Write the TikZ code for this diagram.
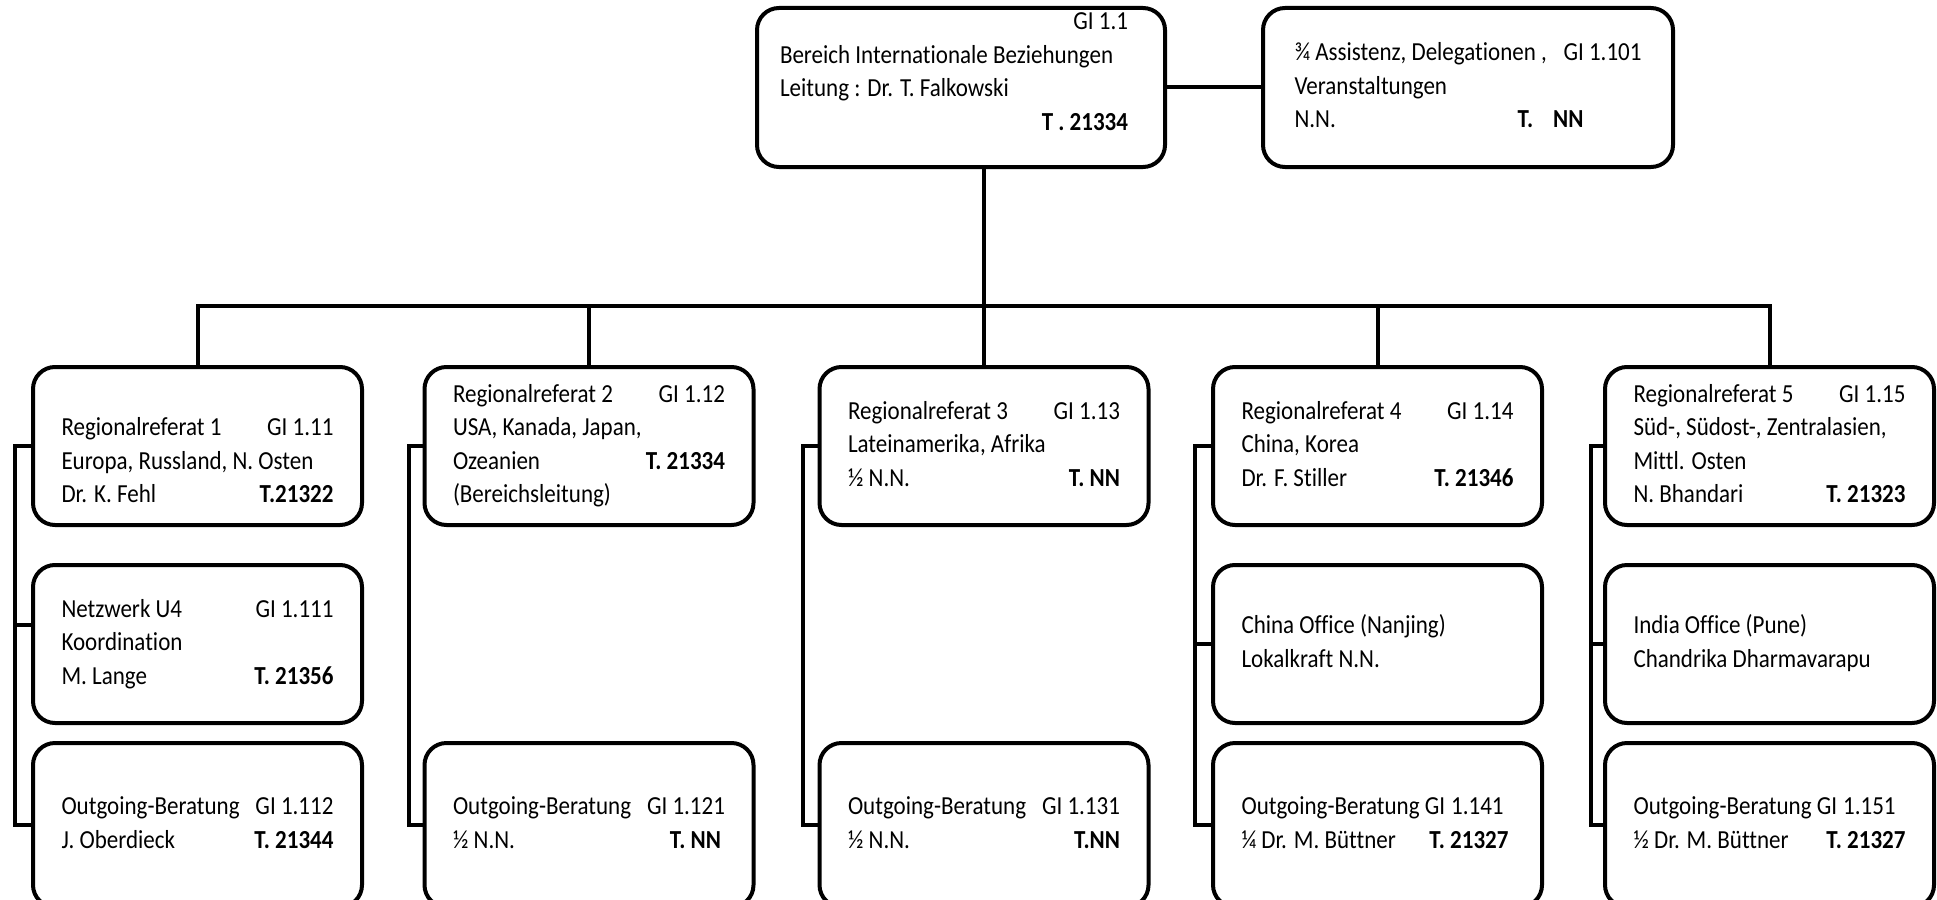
\documentclass[tikz,border=0pt]{standalone}
\usepackage{fontspec}
\setmainfont{Carlito}[FakeStretch=0.885, Ligatures=NoCommon]
\usetikzlibrary{calc}
\newcommand\tline[2]{\hbox to\hsize{\strut#1\hfil#2}}
\newcommand\tblock[2]{\vbox{\hsize=#1\relax #2}}
\tikzset{
  box/.style={draw, line width=2pt, rounded corners=11pt, fill=white, inner sep=0pt,
              minimum width=164.5pt, minimum height=79pt,
              font=\fontsize{13pt}{16.75pt}\selectfont},
  conn/.style={line width=2pt},
}
\begin{document}
\begin{tikzpicture}[x=0.5pt, y=-0.5pt]
\useasboundingbox (0,0) rectangle (1937,899);
\fill[white] (0,0) rectangle (1937,899);
\clip (0,0) rectangle (1937,899);

% top row
\node[box, minimum width=204pt, minimum height=79.5pt] (top) at (961,87.5)
  {\vbox to 79.5pt{\hsize=181pt\vskip-0.75pt
    \tline{}{GI 1.1\kern7pt}
    \tline{Bereich Internationale Beziehungen}{}
    \tline{Leitung : Dr. T. Falkowski}{}
    \tline{}{\textbf{T . 21334}\kern7pt}\vss}};
\node[box, minimum width=205pt, minimum height=79.5pt] (topR) at (1468,87.5)
  {\tblock{173.5pt}{
    \tline{¾ Assistenz, Delegationen ,}{GI 1.101}
    \tline{Veranstaltungen}{}
    \tline{N.N.}{\textbf{T.\kern10pt NN}\kern29pt}}};

% row 1
\node[box] (r1) at (197.5,446) {\tblock{136pt}{
    \tline{}{}
    \tline{Regionalreferat 1}{GI 1.11}
    \tline{Europa, Russland, N. Osten}{}
    \tline{Dr. K. Fehl}{\textbf{T.21322}}}};
\node[box] (r2) at (589,446) {\tblock{136pt}{
    \tline{Regionalreferat 2}{GI 1.12}
    \tline{USA, Kanada, Japan,}{}
    \tline{Ozeanien}{\textbf{T. 21334}}
    \tline{(Bereichsleitung)}{}}};
\node[box] (r3) at (984,446) {\tblock{136pt}{
    \tline{Regionalreferat 3}{GI 1.13}
    \tline{Lateinamerika, Afrika}{}
    \tline{½ N.N.}{\textbf{T. NN}}}};
\node[box] (r4) at (1377.5,446) {\tblock{136pt}{
    \tline{Regionalreferat 4}{GI 1.14}
    \tline{China, Korea}{}
    \tline{Dr. F. Stiller}{\textbf{T. 21346}}}};
\node[box] (r5) at (1769.5,446) {\tblock{136pt}{
    \tline{Regionalreferat 5}{GI 1.15}
    \tline{Süd-, Südost-, Zentralasien,}{}
    \tline{Mittl. Osten}{}
    \tline{N. Bhandari}{\textbf{T. 21323}}}};

% row 2
\node[box] (n1) at (197.5,644) {\tblock{136pt}{
    \tline{Netzwerk U4}{GI 1.111}
    \tline{Koordination}{}
    \tline{M. Lange}{\textbf{T. 21356}}}};
\node[box] (c4) at (1377.5,644) {\tblock{136pt}{
    \tline{China Office (Nanjing)}{}
    \tline{Lokalkraft N.N.}{}}};
\node[box] (c5) at (1769.5,644) {\tblock{136pt}{
    \tline{India Office (Pune)}{}
    \tline{Chandrika Dharmavarapu}{}}};

% row 3
\node[box, minimum height=82pt] (o1) at (197.5,825) {\tblock{136pt}{
    \tline{Outgoing-Beratung}{GI 1.112}
    \tline{J. Oberdieck}{\textbf{T. 21344}}}};
\node[box, minimum height=82pt] (o2) at (589,825) {\tblock{136pt}{
    \tline{Outgoing-Beratung}{GI 1.121}
    \tline{½ N.N.}{\textbf{T. NN}\kern2pt}}};
\node[box, minimum height=82pt] (o3) at (984,825) {\tblock{136pt}{
    \tline{Outgoing-Beratung}{GI 1.131}
    \tline{½ N.N.}{\textbf{T.NN}}}};
\node[box, minimum height=82pt] (o4) at (1377.5,825) {\tblock{136pt}{
    \tline{Outgoing-Beratung GI\kern3pt 1.141}{}
    \tline{¼ Dr. M. Büttner}{\textbf{T. 21327}\kern2.5pt}}};
\node[box, minimum height=82pt] (o5) at (1769.5,825) {\tblock{136pt}{
    \tline{Outgoing-Beratung GI\kern3pt 1.151}{}
    \tline{½ Dr. M. Büttner}{\textbf{T. 21327}}}};

% connectors
\coordinate (bus) at (0,306);
\draw[conn] (top) -- (topR);
\draw[conn] (top.south -| r3.north) -- (r3.north);
\draw[conn] (r1.north) -- (r1.north |- bus) -- (r5.north |- bus) -- (r5.north);
\draw[conn] (r2.north) -- (r2.north |- bus);
\draw[conn] (r4.north) -- (r4.north |- bus);

\coordinate (s1) at ($(r1.west)+(-16,0)$);
\coordinate (s2) at ($(r2.west)+(-14,0)$);
\coordinate (s3) at ($(r3.west)+(-15,0)$);
\coordinate (s4) at ($(r4.west)+(-16,0)$);
\coordinate (s5) at ($(r5.west)+(-12,0)$);
\coordinate (n1c) at ($(n1.west)+(0,-19)$);

\draw[conn] (r1.west) -- (s1) |- (o1.west);
\draw[conn] (n1c) -- (n1c -| s1);
\draw[conn] (r2.west) -- (s2) |- (o2.west);
\draw[conn] (r3.west) -- (s3) |- (o3.west);
\draw[conn] (r4.west) -- (s4) |- (o4.west);
\draw[conn] (c4.west) -- (c4.west -| s4);
\draw[conn] (r5.west) -- (s5) |- (o5.west);
\draw[conn] (c5.west) -- (c5.west -| s5);
\end{tikzpicture}
\end{document}
